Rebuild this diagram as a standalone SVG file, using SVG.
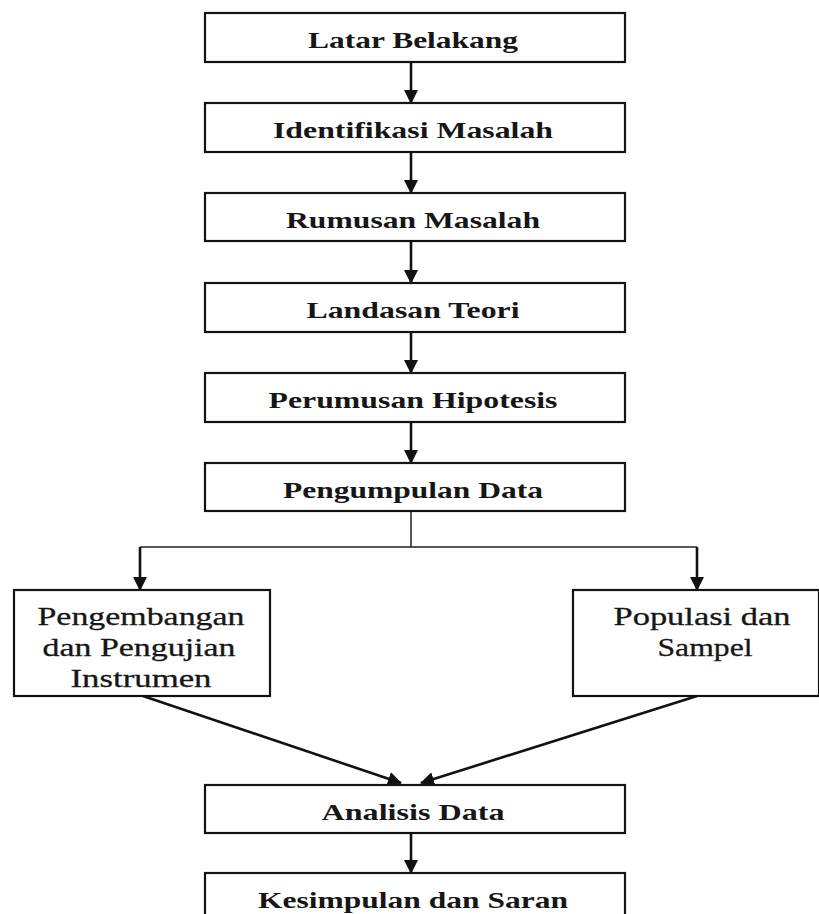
<svg xmlns="http://www.w3.org/2000/svg" width="819" height="914" viewBox="0 0 819 914">
<defs>
<marker id="ah" markerWidth="14" markerHeight="14" refX="13" refY="7" orient="auto" markerUnits="userSpaceOnUse">
<path d="M0,0 L14,7 L0,14 z" fill="#111"/>
</marker>
<style>
.box{fill:#fff;stroke:#151515;stroke-width:2.2}
.sh{fill:none;stroke:#111;stroke-width:2}
.t{font-family:"Liberation Serif","Times New Roman",serif;font-size:23px;font-weight:bold;fill:#161616;text-anchor:middle}
.t2{font-family:"Liberation Serif","Times New Roman",serif;font-size:26px;fill:#161616;stroke:#161616;stroke-width:0.3;text-anchor:middle}
.c{stroke:#111;stroke-width:2.6;fill:none}
.b{stroke:#222;stroke-width:1.5;fill:none}
</style>
</defs>
<rect width="819" height="914" fill="#fff"/>
<g id="connectors">
<line class="c" x1="411" y1="62" x2="411" y2="103" marker-end="url(#ah)"/>
<line class="c" x1="411" y1="152" x2="411" y2="193" marker-end="url(#ah)"/>
<line class="c" x1="411" y1="241" x2="411" y2="283" marker-end="url(#ah)"/>
<line class="c" x1="411" y1="332" x2="411" y2="373" marker-end="url(#ah)"/>
<line class="c" x1="411" y1="422" x2="411" y2="463" marker-end="url(#ah)"/>
<line class="b" x1="411" y1="511" x2="411" y2="547"/>
<line class="b" x1="140" y1="547" x2="697" y2="547"/>
<line class="c" x1="140" y1="547" x2="140" y2="590" marker-end="url(#ah)"/>
<line class="c" x1="697" y1="547" x2="697" y2="590" marker-end="url(#ah)"/>
<line class="c" x1="143" y1="696" x2="401" y2="783" marker-end="url(#ah)"/>
<line class="c" x1="697" y1="696" x2="421" y2="783" marker-end="url(#ah)"/>
<line class="c" x1="411" y1="833" x2="411" y2="873" marker-end="url(#ah)"/>
</g>
<g id="n1"><rect class="box" x="205" y="13" width="420" height="49"/><path class="sh" d="M205,13 V62 H625"/><text class="t" x="413" y="48" textLength="210" lengthAdjust="spacingAndGlyphs">Latar Belakang</text></g>
<g id="n2"><rect class="box" x="205" y="103" width="420" height="49"/><path class="sh" d="M205,103 V152 H625"/><text class="t" x="413" y="138" textLength="280" lengthAdjust="spacingAndGlyphs">Identifikasi Masalah</text></g>
<g id="n3"><rect class="box" x="205" y="193" width="420" height="48"/><path class="sh" d="M205,193 V241 H625"/><text class="t" x="413" y="228" textLength="254" lengthAdjust="spacingAndGlyphs">Rumusan Masalah</text></g>
<g id="n4"><rect class="box" x="205" y="283" width="420" height="49"/><path class="sh" d="M205,283 V332 H625"/><text class="t" x="413" y="318" textLength="213" lengthAdjust="spacingAndGlyphs">Landasan Teori</text></g>
<g id="n5"><rect class="box" x="205" y="373" width="420" height="49"/><path class="sh" d="M205,373 V422 H625"/><text class="t" x="413" y="408" textLength="289" lengthAdjust="spacingAndGlyphs">Perumusan Hipotesis</text></g>
<g id="n6"><rect class="box" x="205" y="463" width="420" height="48"/><path class="sh" d="M205,463 V511 H625"/><text class="t" x="413" y="498" textLength="260" lengthAdjust="spacingAndGlyphs">Pengumpulan Data</text></g>
<g id="n7"><rect class="box" x="14" y="590" width="256" height="106"/><path class="sh" d="M14,590 V696 H270"/>
<text class="t2" x="141" y="625" textLength="207" lengthAdjust="spacingAndGlyphs">Pengembangan</text>
<text class="t2" x="139" y="656" textLength="193" lengthAdjust="spacingAndGlyphs">dan Pengujian</text>
<text class="t2" x="141" y="687" textLength="141" lengthAdjust="spacingAndGlyphs">Instrumen</text></g>
<g id="n8"><rect class="box" x="573" y="590" width="246" height="106"/><path class="sh" d="M573,590 V696 H819"/>
<text class="t2" x="702" y="625" textLength="177" lengthAdjust="spacingAndGlyphs">Populasi dan</text>
<text class="t2" x="705" y="656" textLength="95" lengthAdjust="spacingAndGlyphs">Sampel</text></g>
<g id="n9"><rect class="box" x="205" y="785" width="420" height="48"/><path class="sh" d="M205,785 V833 H625"/><text class="t" x="413" y="820" textLength="183" lengthAdjust="spacingAndGlyphs">Analisis Data</text></g>
<g id="n10"><rect class="box" x="205" y="873" width="420" height="60"/><path class="sh" d="M205,873 V933"/><text class="t" x="413" y="908" textLength="310" lengthAdjust="spacingAndGlyphs">Kesimpulan dan Saran</text></g>
</svg>
